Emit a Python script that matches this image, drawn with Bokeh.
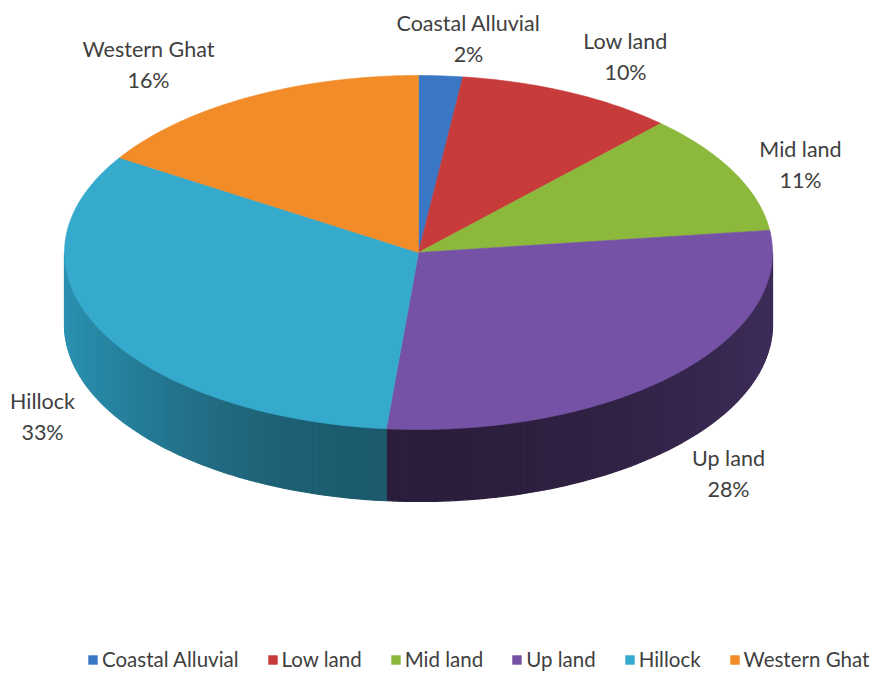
import numpy as np
from bokeh.plotting import figure
from bokeh.models import Range1d, Legend, LegendItem, ColumnDataSource
from bokeh.core.properties import value
from bokeh.embed import file_html
from bokeh.resources import INLINE

# ---- data (slice sizes; labels as printed) ----
categories = ["Coastal Alluvial", "Low land", "Mid land", "Up land", "Hillock", "Western Ghat"]
shares = [2.0, 10.0, 11.0, 28.45, 32.55, 16.0]
pct_labels = ["2%", "10%", "11%", "28%", "33%", "16%"]

# ---- styles ----
top_colors = ["#3a78c6", "#c83b3b", "#8cb83c", "#7552a5", "#36aacc", "#f28c28"]
wall_light = ["#2f62a3", "#a32f2f", "#6f9530", "#3d2c59", "#2a91b1", "#c9701d"]
wall_dark = ["#244c80", "#7e2424", "#566f24", "#2b1e3c", "#1c596b", "#9c5716"]
legend_colors = ["#3a6fb6", "#b83434", "#86ad3a", "#6c4c9a", "#2f9fbf", "#e58526"]

# layout (image pixel coordinates)
W, H = 878, 671
cx, cy, rx, ry, depth = 418.0, 252.0, 354.0, 177.0, 72.0
label_pos = [(468, 22), (625, 40), (800, 148), (728, 457), (42, 400), (148, 48)]

p = figure(width=W, height=H, output_backend="svg", toolbar_location=None,
           x_range=Range1d(0, W), y_range=Range1d(H, 0),
           min_border=0, outline_line_color=None)
p.axis.visible = False
p.grid.visible = False
p.background_fill_color = "white"

tot = float(sum(shares))
edges = np.concatenate([[0.0], np.cumsum(shares)]) / tot * 2 * np.pi


def px(t):
    return cx + rx * np.sin(t)


def py(t):
    return cy - ry * np.cos(t)


def mix(c1, c2, f):
    a = [int(c1[i:i + 2], 16) for i in (1, 3, 5)]
    b = [int(c2[i:i + 2], 16) for i in (1, 3, 5)]
    return "#%02x%02x%02x" % tuple(int(round(a[k] + (b[k] - a[k]) * f)) for k in range(3))


# side walls (front half only: pi/2 .. 3pi/2)
wx, wy, wc = [], [], []
for i in range(len(shares)):
    a0 = max(edges[i], np.pi / 2)
    a1 = min(edges[i + 1], 3 * np.pi / 2)
    if a1 <= a0:
        continue
    n = max(2, int(np.degrees(a1 - a0) / 1.0))
    ts = np.linspace(a0, a1, n + 1)
    for k in range(n):
        t0, t1 = ts[k], ts[k + 1]
        tm = 0.5 * (t0 + t1)
        f = np.cos(tm - np.pi) ** 2
        wx.append([px(t0), px(t1), px(t1), px(t0)])
        wy.append([py(t0), py(t1), py(t1) + depth, py(t0) + depth])
        wc.append(mix(wall_light[i], wall_dark[i], f))
p.patches(wx, wy, fill_color=wc, line_color=wc, line_width=1.2)

# top surfaces
txs, tys = [], []
for i in range(len(shares)):
    ts = np.linspace(edges[i], edges[i + 1], max(3, int(shares[i] * 4)))
    txs.append([cx] + list(px(ts)))
    tys.append([cy] + list(py(ts)))
src = ColumnDataSource(dict(xs=txs, ys=tys, color=top_colors, lc=legend_colors))
tops = p.patches("xs", "ys", source=src, fill_color="color", line_color="color", line_width=0.6)

# data labels
lsrc = ColumnDataSource(dict(
    x=[q[0] for q in label_pos], y=[q[1] for q in label_pos],
    y2=[q[1] + 31 for q in label_pos], name=categories, pct=pct_labels))
p.text("x", "y", text="name", source=lsrc, text_align="center", text_baseline="middle",
       text_font=value("Lato"), text_font_size="21.5px", text_color="#404040")
p.text("x", "y2", text="pct", source=lsrc, text_align="center", text_baseline="middle",
       text_font=value("Lato"), text_font_size="21.5px", text_color="#404040")

# legend
items = [LegendItem(label=categories[i], renderers=[tops], index=i) for i in range(len(categories))]
legend = Legend(items=items, orientation="horizontal", location=(87, 0),
                glyph_width=11, glyph_height=11, label_standoff=4, spacing=28,
                padding=0, margin=0, border_line_color=None, background_fill_alpha=0,
                label_text_font="Lato", label_text_font_size="20.5px", label_text_color="#404040")
p.add_layout(legend, "center")

open("out.html", "w").write(file_html(p, INLINE))
